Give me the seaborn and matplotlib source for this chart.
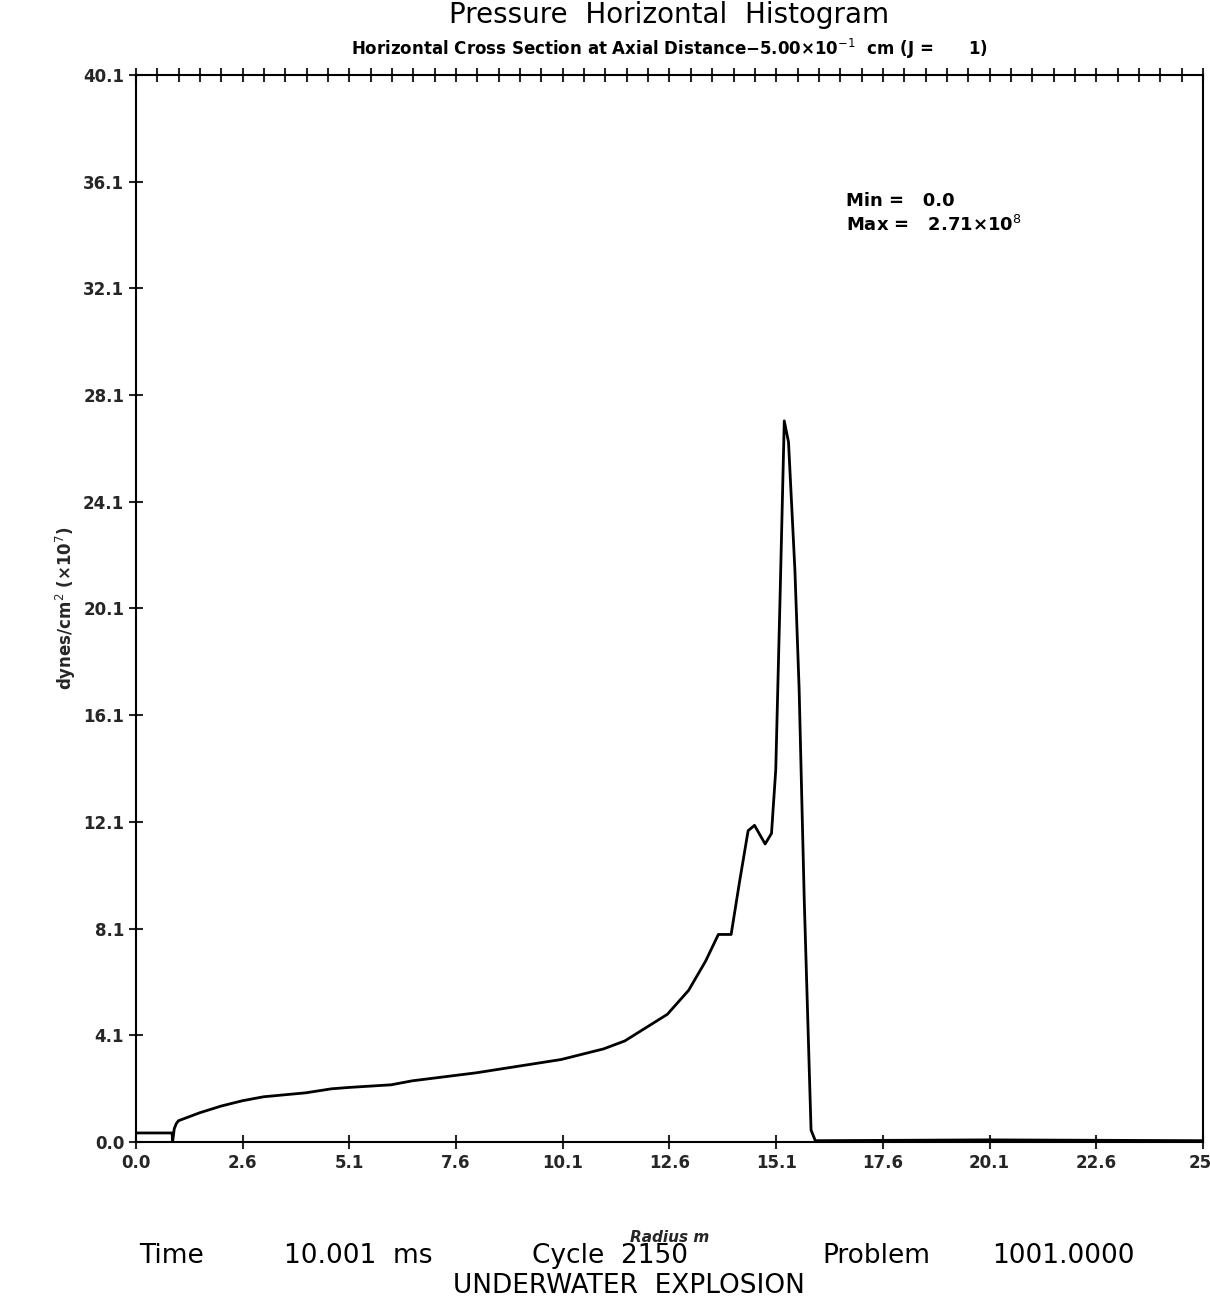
import numpy as np
import matplotlib
matplotlib.use("Agg")
import matplotlib.pyplot as plt
import seaborn as sns
import pandas as pd

sns.set_theme(style="white")
plt.rcParams['font.family'] = ['DejaVu Sans']

radius = [0.0, 0.85, 0.86, 0.9, 0.95, 1.0, 1.5, 2.0, 2.5, 3.0, 4.0, 4.6, 5.0, 6.0, 6.5, 7.0, 8.0, 9.0, 10.0,
          11.0, 11.5, 12.0, 12.5, 13.0, 13.4, 13.7, 14.0, 14.2, 14.4, 14.55, 14.8, 14.95, 15.05, 15.15,
          15.25, 15.35, 15.5, 15.6, 15.72, 15.88, 15.98, 20.0, 25.1]
pressure = [0.34, 0.34, 0.0, 0.5, 0.7, 0.8, 1.1, 1.35, 1.55, 1.7, 1.85, 2.0, 2.05, 2.15, 2.3, 2.4, 2.6, 2.85, 3.1,
            3.5, 3.8, 4.3, 4.8, 5.7, 6.8, 7.8, 7.8, 9.8, 11.7, 11.9, 11.2, 11.6, 14.0, 20.4,
            27.1, 26.3, 21.5, 17.0, 9.1, 0.45, 0.05, 0.08, 0.05]
xticks = [i * 2.51 for i in range(11)]
xlabels = ["0.0", "2.6", "5.1", "7.6", "10.1", "12.6", "15.1", "17.6", "20.1", "22.6", "25."]
yticks = [i * 4.01 for i in range(11)]
ylabels = ["0.0", "4.1", "8.1", "12.1", "16.1", "20.1", "24.1", "28.1", "32.1", "36.1", "40.1"]

df = pd.DataFrame({"r": radius, "p": pressure})
fig = plt.figure(figsize=(12.1, 13.01), dpi=100)
ax = fig.add_axes([0.1124, 0.1222, 0.8818, 0.8202])
sns.lineplot(data=df, x="r", y="p", ax=ax, color="black", linewidth=2)
ax.set_xlim(0, 25.1)
ax.set_ylim(0, 40.1)
ax.set_xticks(xticks)
ax.set_xticklabels(xlabels, fontsize=12, fontweight="bold")
ax.set_yticks(yticks)
ax.set_yticklabels(ylabels, fontsize=12, fontweight="bold")
ax.tick_params(direction="inout", length=10, width=1.5, bottom=True, left=True)
ax.set_xlabel("Radius m", fontsize=11, fontweight="bold", style="italic", labelpad=42)
ax.set_ylabel("dynes/cm$^2$ (×10$^7$)", fontsize=12, fontweight="bold")
top = ax.secondary_xaxis("top")
top.set_xticks([i * 0.502 for i in range(51)])
top.set_xticklabels([])
top.tick_params(direction="inout", length=10, width=1.5)
for s in ax.spines.values():
    s.set_color("black"); s.set_linewidth(1.5)

fig.text(0.553, 0.982, "Pressure  Horizontal  Histogram", ha="center", fontsize=20, color="black")
fig.text(0.553, 0.958, "Horizontal Cross Section at Axial Distance−5.00×10$^{-1}$  cm (J =      1)",
         ha="center", fontsize=12, fontweight="bold", color="black")
ax.text(0.665, 0.89, "Min =   0.0\nMax =   2.71×10$^8$", transform=ax.transAxes,
        fontsize=13, fontweight="bold", va="top", linespacing=1.3, color="black")
kw = dict(fontsize=19, color="black")
fig.text(0.115, 0.029, "Time", **kw)
fig.text(0.235, 0.029, "10.001  ms", **kw)
fig.text(0.44, 0.029, "Cycle  2150", **kw)
fig.text(0.68, 0.029, "Problem", **kw)
fig.text(0.82, 0.029, "1001.0000", **kw)
fig.text(0.52, 0.006, "UNDERWATER  EXPLOSION", ha="center", **kw)
fig.savefig("out.png", dpi=100)
